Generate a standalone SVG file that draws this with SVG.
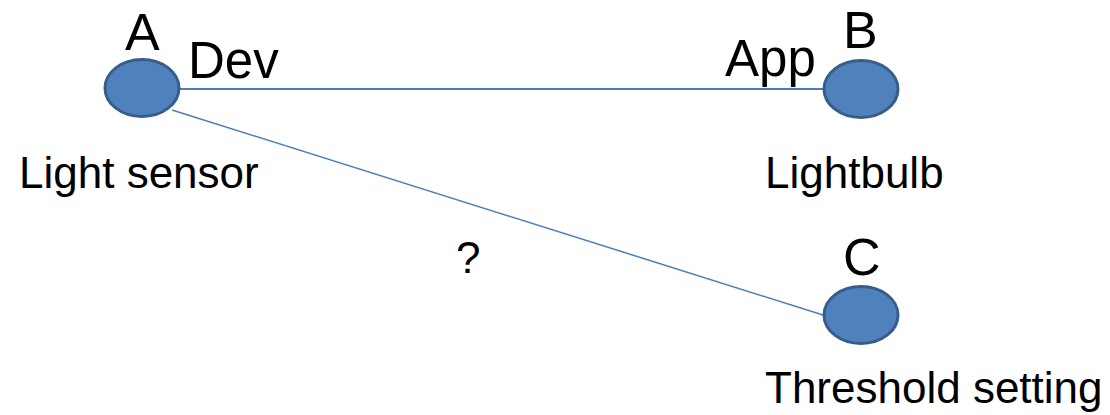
<svg xmlns="http://www.w3.org/2000/svg" width="1110" height="415" viewBox="0 0 1110 415">
<style>
.node{fill:#4F81BD;stroke:#385D8A;stroke-width:3}
.lbl{font-family:"Liberation Sans",Arial,sans-serif;font-size:44px;fill:#000}
.let{font-family:"Liberation Sans",Arial,sans-serif;font-size:52px;fill:#000}
.end{font-family:"Liberation Sans",Arial,sans-serif;font-size:51px;fill:#000}
.edge{stroke:#4A7EBB;fill:none}
</style>
<rect width="1110" height="415" fill="#fff"/>
<g id="connectors">
<line class="edge" x1="180" y1="89" x2="823" y2="89" stroke-width="2"/>
<line class="edge" x1="172" y1="110" x2="823" y2="315" stroke-width="1.5"/>
<text class="end" x="188" y="78">Dev</text>
<text class="end" x="725" y="76">App</text>
<text class="lbl" x="456" y="273">?</text>
</g>
<g id="nodeA">
<ellipse class="node" cx="142" cy="88" rx="37" ry="28.5"/>
<text class="let" x="125" y="50">A</text>
<text class="lbl" x="19" y="188">Light sensor</text>
</g>
<g id="nodeB">
<ellipse class="node" cx="861" cy="89" rx="37" ry="28.5"/>
<text class="let" x="843" y="48">B</text>
<text class="lbl" x="765" y="188">Lightbulb</text>
</g>
<g id="nodeC">
<ellipse class="node" cx="861" cy="315" rx="37" ry="28.5"/>
<text class="let" x="843" y="275">C</text>
<text class="lbl" x="765" y="403">Threshold setting</text>
</g>
</svg>
